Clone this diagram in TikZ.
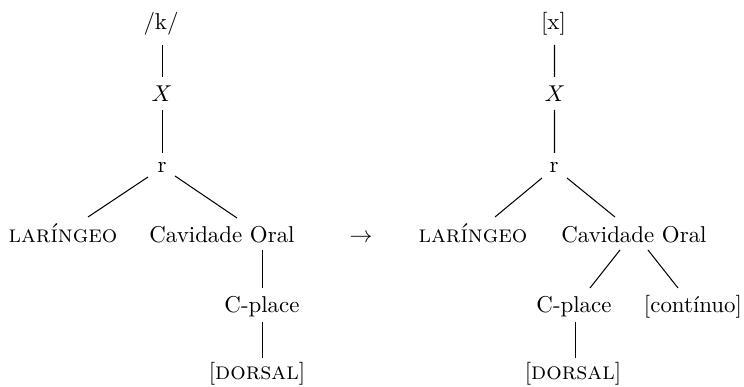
\documentclass[tikz,border=0pt]{standalone}
\usepackage{fontspec}
\newcommand{\mysc}[1]{{\fontsize{10.6pt}{12pt}\selectfont\textsc{#1}}}
\begin{document}
\begin{tikzpicture}[x=0.4366pt,y=-0.4366pt,
  lbl/.style={anchor=base, inner sep=0pt},
  edge/.style={line width=0.45pt}]
\useasboundingbox (0,0) rectangle (744,387);
% left tree
\node[lbl] (k) at (161,30) {/k/};
\node[lbl] (X1) at (162,102) {$X$};
\node[lbl] (r1) at (162,173) {r};
\node[lbl] (lar1) at (63,243) {\mysc{laríngeo}};
\node[lbl] (cav1) at (222,243) {Cavidade Oral};
\node[lbl] (cp1) at (262,313) {C-place};
\node[lbl] (dor1) at (257,380) {[\mysc{dorsal}]};
\node[lbl] (arr) at (361,243) {$\rightarrow$};
% right tree
\node[lbl] (xx) at (553.5,30) {[x]};
\node[lbl] (X2) at (555,102) {$X$};
\node[lbl] (r2) at (554,173) {r};
\node[lbl] (lar2) at (473,243) {\mysc{laríngeo}};
\node[lbl] (cav2) at (634,243) {Cavidade Oral};
\node[lbl] (cp2) at (574,313) {C-place};
\node[lbl] (con2) at (693,313) {[contínuo]};
\node[lbl] (dor2) at (573,380) {[\mysc{dorsal}]};
% left edges
\draw[edge] ([shift={(1.5,15)}]k.base) -- ([shift={(0.5,-25)}]X1.base);
\draw[edge] ([shift={(0.5,8)}]X1.base) -- ([shift={(0.5,-20)}]r1.base);
\draw[edge] ([shift={(-14,4)}]r1.base) -- ([shift={(25,-26)}]lar1.base);
\draw[edge] ([shift={(13,3)}]r1.base) -- ([shift={(15,-25)}]cav1.base);
\draw[edge] ([shift={(40.5,7)}]cav1.base) -- ([shift={(0.5,-25)}]cp1.base);
\draw[edge] ([shift={(0.5,9)}]cp1.base) -- ([shift={(5.5,-22)}]dor1.base);
% right edges
\draw[edge] ([shift={(1,15)}]xx.base) -- ([shift={(-0.5,-25)}]X2.base);
\draw[edge] ([shift={(-0.5,8)}]X2.base) -- ([shift={(0.5,-20)}]r2.base);
\draw[edge] ([shift={(-12,5)}]r2.base) -- ([shift={(22,-26)}]lar2.base);
\draw[edge] ([shift={(13,5)}]r2.base) -- ([shift={(-19,-26)}]cav2.base);
\draw[edge] ([shift={(-14,7)}]cav2.base) -- ([shift={(16,-25)}]cp2.base);
\draw[edge] ([shift={(14,7)}]cav2.base) -- ([shift={(-15,-25)}]con2.base);
\draw[edge] ([shift={(1.5,9)}]cp2.base) -- ([shift={(2.5,-22)}]dor2.base);
\end{tikzpicture}
\end{document}
